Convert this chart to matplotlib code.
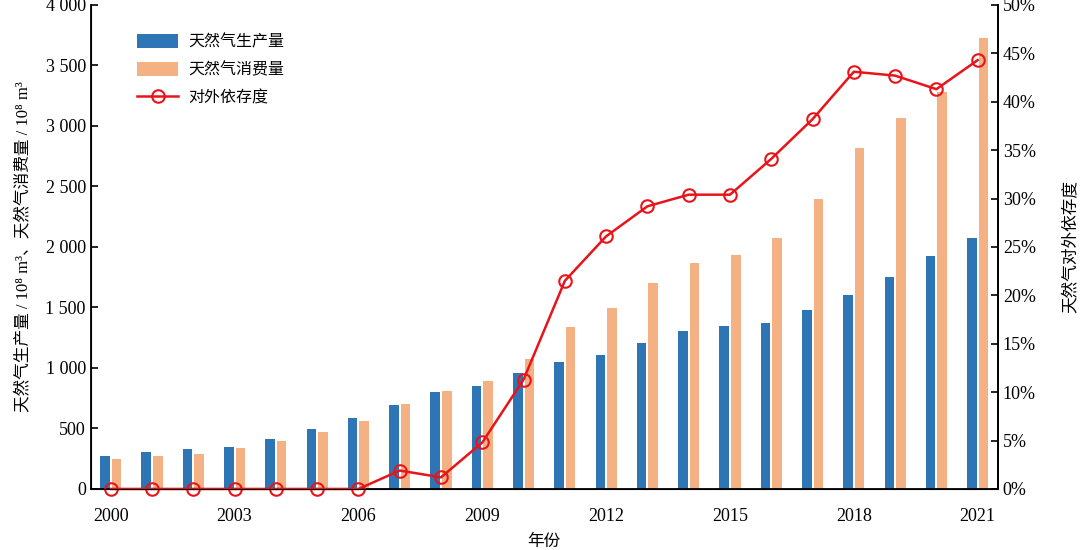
import numpy as np
import matplotlib
matplotlib.use('Agg')
from matplotlib import pyplot as plt
from matplotlib.ticker import FixedLocator

plt.rcParams['font.family'] = ['Liberation Serif', 'Noto Sans CJK SC']

years = list(range(2000, 2022))
production = [272, 303, 327, 350, 415, 493, 586, 692, 803, 853, 958, 1053,
              1106, 1209, 1302, 1346, 1369, 1480, 1602, 1754, 1925, 2076]
consumption = [245, 274, 292, 339, 397, 468, 561, 705, 813, 895, 1075, 1341,
               1497, 1705, 1871, 1932, 2078, 2394, 2817, 3064, 3280, 3726]
dependence = [0, 0, 0, 0, 0, 0, 0, 1.9, 1.2, 4.8, 11.3, 21.5,
              26.1, 29.2, 30.4, 30.4, 34.1, 38.2, 43.1, 42.7, 41.3, 44.3]

left_ticks = [0, 500, 1000, 1500, 2000, 2500, 3000, 3500, 4000]
left_labels = ['0', '500', '1 000', '1 500', '2 000', '2 500', '3 000', '3 500', '4 000']
right_ticks = [0, 5, 10, 15, 20, 25, 30, 35, 40, 45, 50]
xtick_years = [2000, 2003, 2006, 2009, 2012, 2015, 2018, 2021]

blue = '#2E75B6'
orange = '#F4B183'
red = '#E8141A'

fig = plt.figure(figsize=(10.8, 5.5), dpi=100)
ax = fig.add_axes([0.084, 0.111, 0.84, 0.88])

x = np.arange(len(years))
w = 0.23
b1 = ax.bar(x - 0.14, production, w, color=blue, label='天然气生产量')
b2 = ax.bar(x + 0.14, consumption, w, color=orange, label='天然气消费量')

ax.set_xlim(-0.485, 21.49)
ax.set_ylim(0, 4000)
ax.yaxis.set_major_locator(FixedLocator(left_ticks))
ax.set_yticklabels(left_labels)
ax.set_xticks([y - 2000 for y in xtick_years])
ax.set_xticklabels([str(y) for y in xtick_years])
ax.tick_params(axis='y', direction='in', length=5, width=1.2, labelsize=13)
ax.tick_params(axis='x', length=0, labelsize=13, pad=14)
ax.spines['top'].set_visible(False)
for s in ['left', 'bottom', 'right']:
    ax.spines[s].set_linewidth(1.3)
ax.set_xlabel('年份', fontsize=12, labelpad=6)
ax.set_ylabel('天然气生产量 / 10⁸ m³、天然气消费量 / 10⁸ m³', fontsize=12, labelpad=10)

ax2 = ax.twinx()
ln, = ax2.plot(x, dependence, color=red, lw=1.8, marker='o', ms=9,
               markerfacecolor='none', markeredgecolor=red, markeredgewidth=1.5,
               label='对外依存度', clip_on=False)
ax2.set_ylim(0, 50)
ax2.yaxis.set_major_locator(FixedLocator(right_ticks))
ax2.set_yticklabels(['%d%%' % t for t in right_ticks])
ax2.tick_params(axis='y', direction='in', length=5, width=1.2, labelsize=13)
ax2.spines['top'].set_visible(False)
ax2.spines['right'].set_linewidth(1.3)
ax2.set_ylabel('天然气对外依存度', fontsize=12, labelpad=20)

ax2.legend(handles=[b1, b2, ln], loc='upper left', bbox_to_anchor=(0.035, 0.97),
           frameon=False, fontsize=11.5, handlelength=2.6, handleheight=1.0,
           labelspacing=0.7, handletextpad=0.6)

fig.savefig('out.png', dpi=100)
